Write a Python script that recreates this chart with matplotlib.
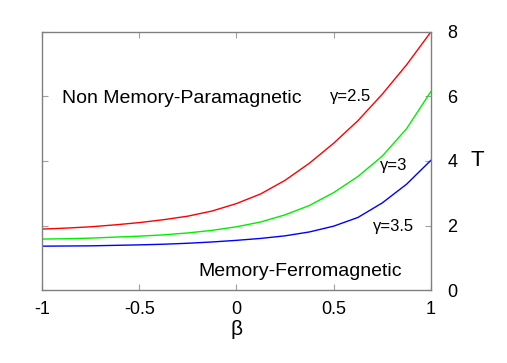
import numpy as np
import matplotlib
matplotlib.use("Agg")
import matplotlib.pyplot as plt

plt.rcParams['font.family'] = ['Liberation Sans', 'DejaVu Sans']
plt.rcParams['axes.unicode_minus'] = False

# values
beta = [-1, -0.875, -0.75, -0.625, -0.5, -0.375, -0.25, -0.125, 0,
        0.125, 0.25, 0.375, 0.5, 0.625, 0.75, 0.875, 1]
T_g25 = [1.89, 1.92, 1.96, 2.02, 2.09, 2.18, 2.29, 2.45, 2.68,
         2.98, 3.40, 3.93, 4.55, 5.25, 6.07, 6.98, 8.0]
T_g3 = [1.58, 1.59, 1.61, 1.64, 1.67, 1.71, 1.77, 1.85, 1.96,
        2.11, 2.33, 2.62, 3.02, 3.52, 4.15, 5.00, 6.15]
T_g35 = [1.36, 1.365, 1.37, 1.385, 1.40, 1.42, 1.45, 1.49, 1.54,
         1.60, 1.68, 1.80, 1.98, 2.25, 2.70, 3.28, 4.02]

xticks = [-1, -0.5, 0, 0.5, 1]
xticklabels = ['-1', '-0.5', '0', '0.5', '1']
yticks = [0, 2, 4, 6, 8]

fig = plt.figure(figsize=(5.07, 3.63), dpi=100)
ax = fig.add_axes([0.0828, 0.201, 0.767, 0.711])

ax.plot(beta, T_g25, color='#ff0000', lw=1.0)
ax.plot(beta, T_g3, color='#00ee00', lw=1.0)
ax.plot(beta, T_g35, color='#0000ff', lw=1.0)

ax.set_xlim(-1, 1)
ax.set_ylim(0, 8)
ax.set_xticks(xticks)
ax.set_xticklabels(xticklabels)
ax.set_yticks(yticks)

for s in ax.spines.values():
    s.set_color('#808080')
    s.set_linewidth(1.0)

ax.tick_params(axis='both', direction='in', length=4, color='#a0a0a0', labelsize=13)
ax.tick_params(axis='x', top=True, bottom=True, pad=8)
ax.tick_params(axis='y', left=True, right=True, labelleft=False, labelright=True, pad=12)

ax.set_xlabel('β', fontsize=15, labelpad=1)
fig.text(477 / 507, 1 - 161 / 363, 'T', fontsize=16, ha='center', va='center')

ax.text(-0.897, 5.95, 'Non Memory-Paramagnetic', fontsize=14, va='center')
ax.text(-0.198, 0.57, 'Memory-Ferromagnetic', fontsize=14, va='center')
ax.text(0.481, 6.0, 'γ=2.5', fontsize=12, va='center')
ax.text(0.738, 3.85, 'γ=3', fontsize=12, va='center')
ax.text(0.70, 1.96, 'γ=3.5', fontsize=12, va='center')

fig.savefig('out.png', dpi=100)
